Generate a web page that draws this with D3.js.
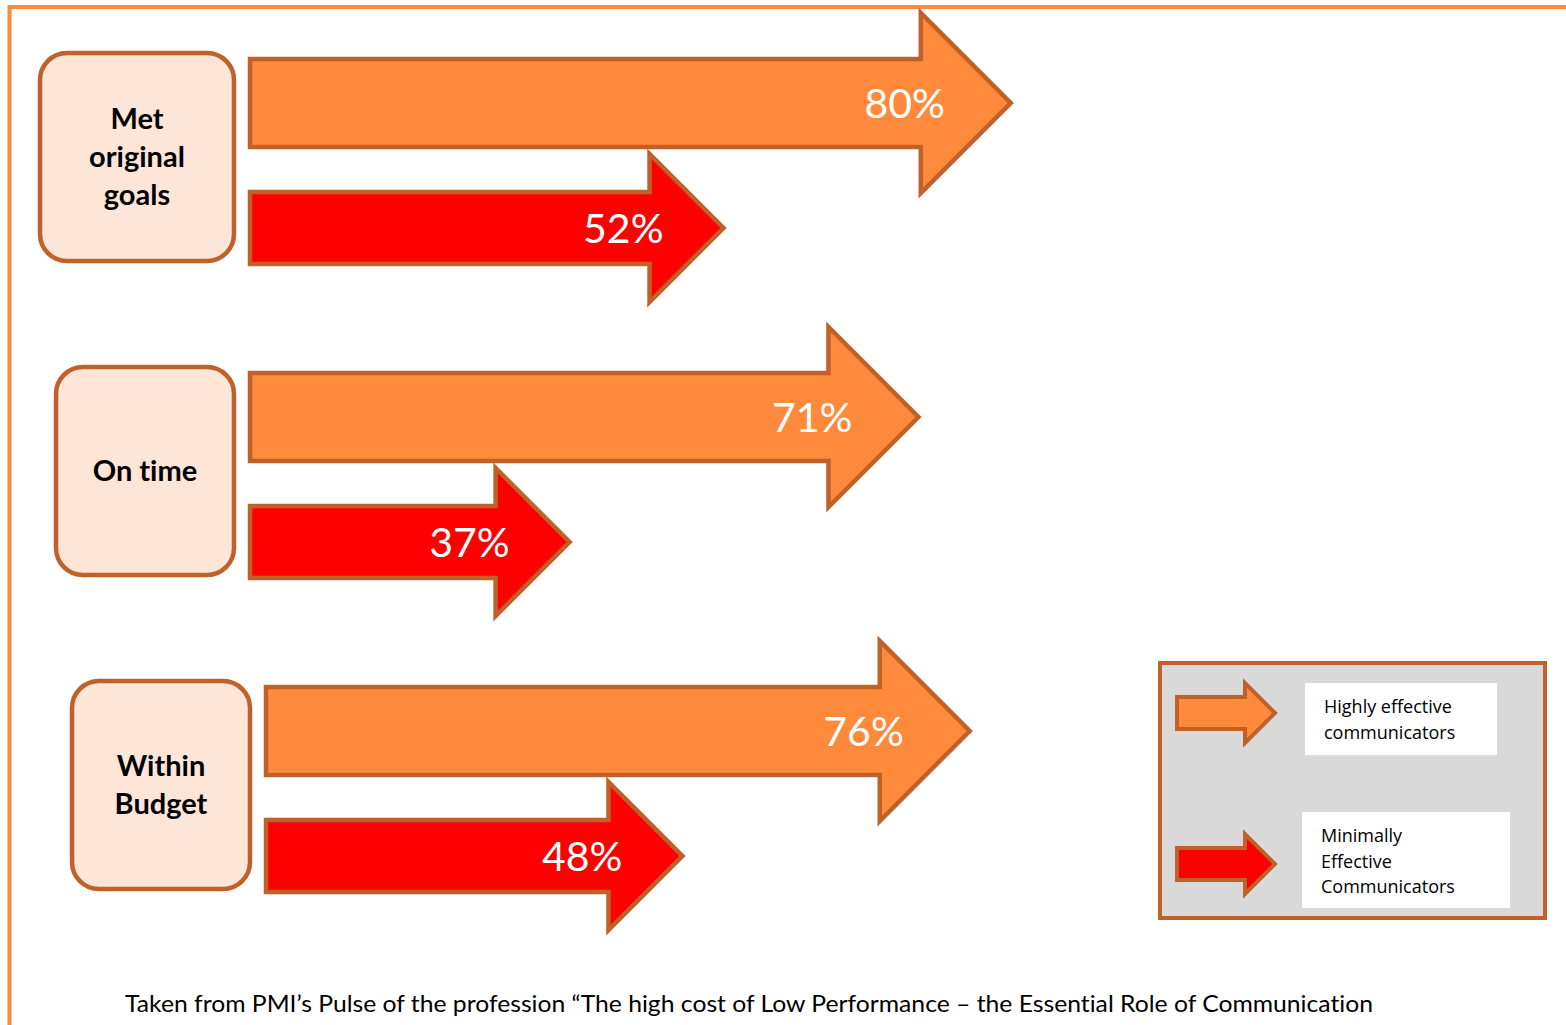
<!DOCTYPE html>
<html>
<head>
<meta charset="utf-8">
<script src="https://cdn.jsdelivr.net/npm/d3@7"></script>
<style>
  body { margin: 0; background: #fff; }
  svg { display: block; }
  text { font-variant-ligatures: none; font-feature-settings: "liga" 0; }
</style>
</head>
<body>
<div id="chart"></div>
<script>
// Data
var groups = ["Met original goals", "On time", "Within Budget"];
var groupLines = [["Met", "original", "goals"], ["On time"], ["Within", "Budget"]];
var highly = [80, 71, 76];
var minimally = [52, 37, 48];
var seriesNames = ["Highly effective communicators", "Minimally Effective Communicators"];
var legendLines = [["Highly effective", "communicators"], ["Minimally", "Effective", "Communicators"]];
var footnote = "Taken from PMI\u2019s Pulse of the profession \u201cThe high cost of Low Performance \u2013 the Essential Role of Communication";

// Define SVG area
var svgWidth = 1566;
var svgHeight = 1025;

var orange = "#FF8A3B";
var red = "#FF0000";
var edge = "#BF6129";
var boxFill = "#FDE6D8";

// per-group layout of the label boxes and arrow starts
var boxLeft = [40, 56, 72];
var boxRight = [234, 234, 250];
var arrowStart = [248, 248, 264];

var svg = d3.select("#chart")
    .append("svg")
    .attr("width", svgWidth)
    .attr("height", svgHeight);

// frame lines (top and left)
svg.append("path")
    .attr("d", "M9.5,1025 L9.5,7 L1566,7")
    .attr("fill", "none")
    .attr("stroke", "#FF8A3B")
    .attr("stroke-width", 4);

// Scales: value -> arrow tip x, group -> row centre y
var xScale = d3.scaleLinear()
    .domain([0, 100])
    .range([190, 1216]);

var yScale = d3.scalePoint()
    .domain(groups)
    .range([103, 731]);

var redOffset = 125;

// Build a block arrow outline
function arrowPath(x0, tip, cy, bodyHalf, headHalf, headLen) {
    var p = d3.path();
    var neck = tip - headLen;
    p.moveTo(x0, cy - bodyHalf);
    p.lineTo(neck, cy - bodyHalf);
    p.lineTo(neck, cy - headHalf);
    p.lineTo(tip, cy);
    p.lineTo(neck, cy + headHalf);
    p.lineTo(neck, cy + bodyHalf);
    p.lineTo(x0, cy + bodyHalf);
    p.closePath();
    return p.toString();
}

var rows = groups.map(function(g, i) {
    return { name: g, lines: groupLines[i], high: highly[i], low: minimally[i], i: i };
});

var rowGroup = svg.selectAll(".row")
    .data(rows)
    .enter()
    .append("g")
    .attr("class", "row");

// label boxes
rowGroup.append("rect")
    .attr("x", d => boxLeft[d.i])
    .attr("y", d => yScale(d.name) + 54 - 104)
    .attr("width", d => boxRight[d.i] - boxLeft[d.i])
    .attr("height", 208)
    .attr("rx", 27)
    .attr("fill", boxFill)
    .attr("stroke", edge)
    .attr("stroke-width", 4.5);

rowGroup.each(function(d) {
    var g = d3.select(this);
    var cx = (boxLeft[d.i] + boxRight[d.i]) / 2;
    var cy = yScale(d.name) + 54;
    var n = d.lines.length;
    g.selectAll(".glabel")
        .data(d.lines)
        .enter()
        .append("text")
        .attr("class", "glabel")
        .attr("x", cx)
        .attr("y", (t, k) => cy + (k - (n - 1) / 2) * 38 + 10)
        .attr("text-anchor", "middle")
        .attr("font-family", "Lato, 'Open Sans', sans-serif")
        .attr("font-weight", "bold")
        .attr("font-size", 29)
        .attr("fill", "#000")
        .text(t => t);
});

// highly effective arrows (orange)
rowGroup.append("path")
    .attr("d", d => arrowPath(arrowStart[d.i] + 2, xScale(d.high), yScale(d.name), 44, 90, 90))
    .attr("fill", orange)
    .attr("stroke", edge)
    .attr("stroke-width", 4.5)
    .attr("stroke-linejoin", "miter");

rowGroup.append("text")
    .attr("x", d => xScale(d.high) - 66)
    .attr("y", d => yScale(d.name) + 15)
    .attr("text-anchor", "end")
    .attr("font-family", "Lato, 'Open Sans', sans-serif")
    .attr("font-size", 41)
    .attr("fill", "#fff")
    .text(d => d.high + "%");

// minimally effective arrows (red)
rowGroup.append("path")
    .attr("d", d => arrowPath(arrowStart[d.i] + 2, xScale(d.low), yScale(d.name) + redOffset, 36, 74, 74))
    .attr("fill", red)
    .attr("stroke", edge)
    .attr("stroke-width", 4.5);

rowGroup.append("text")
    .attr("x", d => xScale(d.low) - 60)
    .attr("y", d => yScale(d.name) + redOffset + 15)
    .attr("text-anchor", "end")
    .attr("font-family", "Lato, 'Open Sans', sans-serif")
    .attr("font-size", 41)
    .attr("fill", "#fff")
    .text(d => d.low + "%");

// Legend
var legend = svg.append("g");

legend.append("rect")
    .attr("x", 1160)
    .attr("y", 663)
    .attr("width", 385)
    .attr("height", 255)
    .attr("fill", "#D9D9D9")
    .attr("stroke", edge)
    .attr("stroke-width", 4);

var legendItems = [
    { name: seriesNames[0], lines: legendLines[0], color: orange, cy: 713, box: [1305, 683, 192, 72], ty: 713 },
    { name: seriesNames[1], lines: legendLines[1], color: red, cy: 864, box: [1302, 812, 208, 96], ty: 842 }
];

legendItems.forEach(function(item) {
    legend.append("path")
        .attr("d", arrowPath(1177, 1275, item.cy, 16, 30, 30))
        .attr("fill", item.color)
        .attr("stroke", edge)
        .attr("stroke-width", 4);

    legend.append("rect")
        .attr("x", item.box[0])
        .attr("y", item.box[1])
        .attr("width", item.box[2])
        .attr("height", item.box[3])
        .attr("fill", "#fff");

    legend.selectAll(null)
        .data(item.lines)
        .enter()
        .append("text")
        .attr("x", item.box[0] + 19)
        .attr("y", (t, k) => item.ty + k * 25.5)
        .attr("font-family", "'Open Sans', sans-serif")
        .attr("font-size", 18)
        .attr("fill", "#000")
        .text(t => t);
});

// Footnote
svg.append("text")
    .attr("x", 125)
    .attr("y", 1012)
    .attr("font-family", "Lato, 'Open Sans', sans-serif")
    .attr("font-size", 23)
    .attr("textLength", 1248)
    .attr("lengthAdjust", "spacingAndGlyphs")
    .attr("fill", "#000")
    .text(footnote);
</script>
</body>
</html>
